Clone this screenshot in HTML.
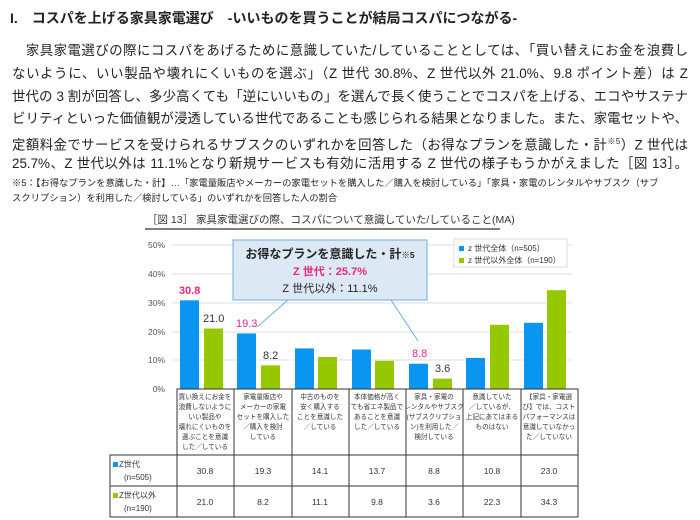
<!DOCTYPE html>
<html><head><meta charset="utf-8"><style>
body{margin:0;width:700px;height:520px;background:#fff;overflow:hidden;font-family:"Liberation Sans","Noto Sans CJK JP",sans-serif;color:#222;position:relative}
.t{position:absolute;left:10px;top:8px;font-size:14px;font-weight:bold;white-space:nowrap}
.p{position:absolute;left:12px;width:676px;font-size:13.4px;white-space:nowrap;text-align:justify;text-align-last:justify;line-height:22px}
.f{position:absolute;left:12px;font-size:9.3px;white-space:nowrap;width:676px}
svg{position:absolute;left:0;top:0}
</style></head><body>
<div class="t">I.　コスパを上げる家具家電選び　-いいものを買うことが結局コスパにつながる-</div>
<div class="p" style="top:40px">　家具家電選びの際にコスパをあげるために意識していた/していることとしては、「買い替えにお金を浪費し</div>
<div class="p" style="top:63px">ないように、いい製品や壊れにくいものを選ぶ」（Z 世代 30.8%、Z 世代以外 21.0%、9.8 ポイント差）は Z</div>
<div class="p" style="top:86px">世代の 3 割が回答し、多少高くても「逆にいいもの」を選んで長く使うことでコスパを上げる、エコやサステナ</div>
<div class="p" style="top:108px">ビリティといった価値観が浸透している世代であることも感じられる結果となりました。また、家電セットや、</div>
<div class="p" style="top:131px">定額料金でサービスを受けられるサブスクのいずれかを回答した（お得なプランを意識した・計<sup style="font-size:8px">※5</sup>）Z 世代は</div>
<div class="p" style="top:153px">25.7%、Z 世代以外は 11.1%となり新規サービスも有効に活用する Z 世代の様子もうかがえました［図 13］。</div>
<div class="f" style="top:175px">※5：【お得なプランを意識した・計】…「家電量販店やメーカーの家電セットを購入した／購入を検討している」「家具・家電のレンタルやサブスク（サブ</div>
<div class="f" style="top:190px">スクリプション）を利用した／検討している」のいずれかを回答した人の割合</div>
<svg width="700" height="520" font-family="Liberation Sans,Noto Sans CJK JP,sans-serif">
<text x="147" y="223" font-size="10.5" fill="#333">［図 13］ 家具家電選びの際、コスパについて意識していた/していること(MA)</text>
<line x1="145" y1="229" x2="500" y2="229" stroke="#555" stroke-width="1.5"/>
<g stroke="#ddd"><line x1="172" y1="245" x2="572" y2="245"/><line x1="172" y1="274" x2="572" y2="274"/><line x1="172" y1="303" x2="572" y2="303"/><line x1="172" y1="332" x2="572" y2="332"/><line x1="172" y1="360" x2="572" y2="360"/></g>
<g font-size="8.5" fill="#555" text-anchor="end"><text x="165" y="248">50%</text><text x="165" y="277">40%</text><text x="165" y="306">30%</text><text x="165" y="335">20%</text><text x="165" y="363">10%</text><text x="165" y="392">0%</text></g>
<g fill="#0a96f0">
<rect x="180" y="300.3" width="19" height="88.7"/><rect x="237" y="333.4" width="19" height="55.6"/><rect x="295" y="348.4" width="19" height="40.6"/><rect x="352" y="349.5" width="19" height="39.5"/><rect x="409" y="363.7" width="19" height="25.3"/><rect x="466" y="357.9" width="19" height="31.1"/><rect x="524" y="322.8" width="19" height="66.2"/></g>
<g fill="#96c800">
<rect x="204" y="328.5" width="19" height="60.5"/><rect x="261" y="365.4" width="19" height="23.6"/><rect x="318" y="357" width="19" height="32"/><rect x="375" y="360.8" width="19" height="28.2"/><rect x="433" y="378.6" width="19" height="10.4"/><rect x="490" y="324.8" width="19" height="64.2"/><rect x="547" y="290.2" width="19" height="98.8"/></g>
<text x="179" y="294" font-size="11" font-weight="bold" fill="#e6287a">30.8</text>
<text x="203" y="322" font-size="11" fill="#333">21.0</text>
<text x="236" y="327" font-size="11" fill="#e6287a">19.3</text>
<text x="263" y="359" font-size="11" fill="#333">8.2</text>
<text x="412" y="357" font-size="11" fill="#e6287a">8.8</text>
<text x="435" y="372" font-size="11" fill="#333">3.6</text>
<line x1="288" y1="300" x2="257" y2="327" stroke="#6aaee0"/>
<line x1="391" y1="300" x2="418" y2="341" stroke="#6aaee0"/>
<rect x="233" y="240" width="194" height="60" fill="#dce9f5" stroke="#6aaee0"/>
<text x="330" y="258" font-size="12" font-weight="bold" text-anchor="middle" fill="#222">お得なプランを意識した・計<tspan font-size="8.5">※5</tspan></text>
<text x="330" y="275" font-size="11" font-weight="bold" text-anchor="middle" fill="#e6287a">Z 世代：25.7%</text>
<text x="330" y="292" font-size="11" text-anchor="middle" fill="#222">Z 世代以外：11.1%</text>
<rect x="454" y="239" width="113" height="28" fill="#fff" stroke="#ddd"/>
<rect x="459" y="246" width="5" height="5" fill="#0a96f0"/><text x="468" y="251" font-size="8" fill="#333">z 世代全体（n=505）</text>
<rect x="459" y="258" width="5" height="5" fill="#96c800"/><text x="468" y="263" font-size="8" fill="#333">z 世代以外全体（n=190）</text>
<g stroke="#333" fill="none" stroke-width="1">
<rect x="177" y="389" width="401" height="66"/>
<rect x="110" y="455" width="468" height="62"/>
<line x1="110" y1="486" x2="578" y2="486"/>
<line x1="177" y1="455" x2="177" y2="517"/>
<line x1="234" y1="389" x2="234" y2="517"/><line x1="292" y1="389" x2="292" y2="517"/><line x1="349" y1="389" x2="349" y2="517"/><line x1="406" y1="389" x2="406" y2="517"/><line x1="463" y1="389" x2="463" y2="517"/><line x1="521" y1="389" x2="521" y2="517"/>
</g>
<g font-size="6.6" fill="#333" text-anchor="middle">
<text x="205" y="399">買い換えにお金を</text><text x="205" y="409">浪費しないように</text><text x="205" y="419">いい製品や</text><text x="205" y="429">壊れにくいものを</text><text x="205" y="439">選ぶことを意識</text><text x="205" y="449">した／している</text>
<text x="263" y="399">家電量販店や</text><text x="263" y="409">メーカーの家電</text><text x="263" y="419">セットを購入した</text><text x="263" y="429">／購入を検討</text><text x="263" y="439">している</text>
<text x="320" y="399">中古のものを</text><text x="320" y="409">安く購入する</text><text x="320" y="419">ことを意識した</text><text x="320" y="429">／している</text>
<text x="377" y="399">本体価格が高く</text><text x="377" y="409">ても省エネ製品で</text><text x="377" y="419">あることを意識</text><text x="377" y="429">した／している</text>
<text x="434" y="399">家具・家電の</text><text x="434" y="409">レンタルやサブスク</text><text x="434" y="419">(サブスクリプショ</text><text x="434" y="429">ン)を利用した／</text><text x="434" y="439">検討している</text>
<text x="492" y="399">意識していた</text><text x="492" y="409">／しているが、</text><text x="492" y="419">上記にあてはまる</text><text x="492" y="429">ものはない</text>
<text x="549" y="399">【家具・家電選</text><text x="549" y="409">び】では、コスト</text><text x="549" y="419">パフォーマンスは</text><text x="549" y="429">意識していなかっ</text><text x="549" y="439">た／していない</text>
</g>
<g font-size="8" fill="#333">
<rect x="113" y="462" width="5" height="5" fill="#0a96f0"/><text x="119" y="467">Z世代</text><text x="124" y="480">(n=505)</text>
<rect x="113" y="493" width="5" height="5" fill="#96c800"/><text x="119" y="498">Z世代以外</text><text x="124" y="511">(n=190)</text>
</g>
<g font-size="8.5" fill="#333" text-anchor="middle">
<text x="205" y="474">30.8</text><text x="263" y="474">19.3</text><text x="320" y="474">14.1</text><text x="377" y="474">13.7</text><text x="434" y="474">8.8</text><text x="492" y="474">10.8</text><text x="549" y="474">23.0</text>
<text x="205" y="505">21.0</text><text x="263" y="505">8.2</text><text x="320" y="505">11.1</text><text x="377" y="505">9.8</text><text x="434" y="505">3.6</text><text x="492" y="505">22.3</text><text x="549" y="505">34.3</text>
</g>
</svg>
</body></html>
